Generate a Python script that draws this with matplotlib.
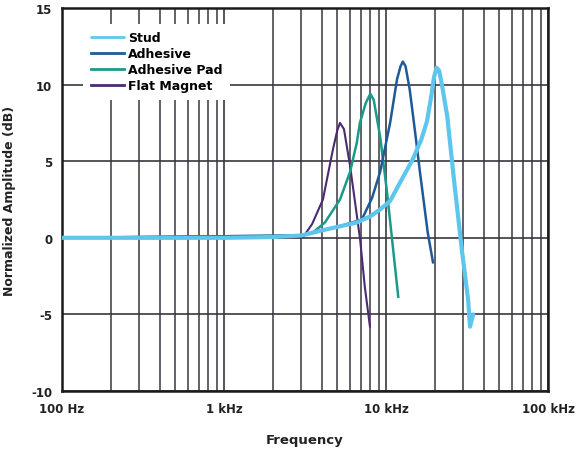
import matplotlib
matplotlib.use("Agg")
import matplotlib.pyplot as plt
from matplotlib.ticker import FixedLocator, NullFormatter, LogLocator

plt.rcParams['font.family'] = ['DejaVu Sans']

# ---- data ----
stud_f = [100, 1000, 2000, 3000, 4080, 5200, 6600, 8000, 9200, 10600, 12200, 14600,
          16500, 17900, 19000, 19800, 20500, 21300, 22300, 23900, 26400, 29400,
          32100, 33000, 34500]
stud_db = [0, 0, 0.05, 0.15, 0.5, 0.75, 1.0, 1.4, 1.85, 2.4, 3.6, 5.1,
           6.4, 7.6, 9.2, 10.5, 11.1, 10.9, 9.8, 7.9, 3.6, -0.8,
           -4.0, -5.8, -5.0]

adh_f = [100, 3000, 5000, 7100, 8200, 9200, 10600, 11700, 12300, 12700, 13200,
         14000, 15000, 16200, 18100, 19500]
adh_db = [0, 0.15, 0.7, 1.2, 2.6, 4.3, 7.5, 10.35, 11.2, 11.5, 11.2,
          9.7, 7.2, 4.3, 0.34, -1.6]

pad_f = [100, 3000, 3540, 4200, 5200, 6000, 6600, 6900, 7500, 8000, 8400,
         9200, 10100, 10900, 11900]
pad_db = [0, 0.15, 0.35, 1.0, 2.5, 4.3, 6.2, 7.5, 8.8, 9.4, 9.0,
          6.6, 3.15, -0.1, -3.85]

mag_f = [100, 3080, 3500, 4080, 4710, 5000, 5200, 5500, 6000, 6920, 7400, 7960]
mag_db = [0, 0.05, 0.9, 2.5, 5.8, 7.0, 7.5, 7.1, 4.7, -0.1, -3.2, -5.8]

series_names = ["Stud", "Adhesive", "Adhesive Pad", "Flat Magnet"]
colors = ["#5ec6ec", "#1e5a98", "#1a9a8a", "#4a2a72"]

y_ticks = [-10, -5, 0, 5, 10, 15]
x_ticks = [100, 1000, 10000, 100000]
x_labels = ["100 Hz", "1 kHz", "10 kHz", "100 kHz"]

# ---- figure ----
fig = plt.figure(figsize=(5.78, 4.56), dpi=100)
ax = fig.add_axes([62/578, 1-392/456, (548-62)/578, (392-9)/456])

grid_c = "#3b3640"
ax.set_xscale("log")
ax.set_xlim(100, 100000)
ax.set_ylim(-10, 15)

ax.xaxis.set_major_locator(FixedLocator(x_ticks))
ax.xaxis.set_minor_locator(LogLocator(base=10, subs=range(2, 10)))
ax.xaxis.set_minor_formatter(NullFormatter())
ax.set_xticks(x_ticks)
ax.set_xticklabels(x_labels)
ax.set_yticks(y_ticks)
ax.set_yticklabels([str(v) for v in y_ticks])

ax.grid(True, which="major", axis="both", color=grid_c, linewidth=1.2)
ax.grid(True, which="minor", axis="x", color=grid_c, linewidth=1.1)
ax.tick_params(which="both", length=0, labelsize=8.5, colors="#222222")
ax.tick_params(axis="x", pad=8)
ax.tick_params(axis="y", pad=7)
for lab in ax.get_xticklabels() + ax.get_yticklabels():
    lab.set_fontweight("bold")
ax.set_axisbelow(True)

for sp in ax.spines.values():
    sp.set_linewidth(1.8)
    sp.set_color("#1a1a1a")

l_mag, = ax.plot(mag_f, mag_db, color=colors[3], lw=1.5, zorder=3)
l_pad, = ax.plot(pad_f, pad_db, color=colors[2], lw=1.8, zorder=3)
l_adh, = ax.plot(adh_f, adh_db, color=colors[1], lw=1.8, zorder=3)
l_stud, = ax.plot(stud_f, stud_db, color=colors[0], lw=3.0, zorder=4,
                  solid_capstyle="round", solid_joinstyle="round")

leg = ax.legend([l_stud, l_adh, l_pad, l_mag], series_names,
                loc="upper left", bbox_to_anchor=(83/578, 1-25/456),
                bbox_transform=fig.transFigure,
                frameon=True, fancybox=False, framealpha=1.0,
                facecolor="white", edgecolor="none",
                prop={"weight": "bold", "size": 9},
                handlelength=2.65, handletextpad=0.35, labelspacing=0.23,
                borderpad=0.6, borderaxespad=0)
leg.get_frame().set_linewidth(0)
for h in leg.legend_handles:
    h.set_linewidth(2.0)
leg.set_zorder(5)

ax.set_xlabel("Frequency", fontsize=9.5, fontweight="bold", labelpad=13, color="#222222")
ax.set_ylabel("Normalized Amplitude (dB)", fontsize=9, fontweight="bold",
              labelpad=11, color="#222222")

fig.savefig("out.png", dpi=100, facecolor="white")
